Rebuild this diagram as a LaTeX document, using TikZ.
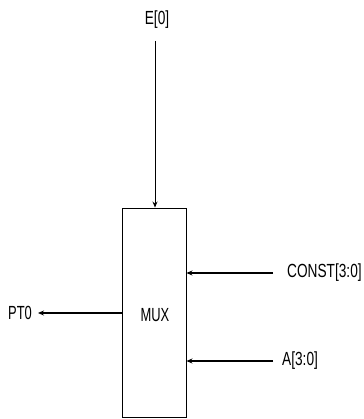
\documentclass[tikz,border=0pt]{standalone}
\usepackage{fontspec}
\setmainfont{Liberation Sans}
\usetikzlibrary{arrows.meta}
\begin{document}
\begin{tikzpicture}[x=1pt,y=-1pt,
  lbl/.style={inner sep=0pt,font=\fontsize{19}{19}\selectfont},
  sig/.style={line width=1.4pt,-{Stealth[length=6pt,width=5pt]}},
  blk/.style={draw,line width=0.9pt,minimum width=64pt,minimum height=209pt,inner sep=0pt}]
\useasboundingbox (0,0) rectangle (363,419);
\node[blk] (mux) at (154,312.5) {};
\node[lbl] (mt) at (155,315) {\scalebox{0.68}[1]{MUX}};
\node[lbl] (e) at (157,20) {\scalebox{0.72}[1]{E[0]}};
\node[lbl,anchor=west] (pt) at (8,313) {\scalebox{0.68}[1]{PT0}};
\node[lbl,anchor=west] (c) at (287,273) {\scalebox{0.72}[1]{CONST[3:0]}};
\node[lbl,anchor=west] (a) at (282,361) {\scalebox{0.72}[1]{A[3:0]}};
\coordinate (es) at (155,41);
\coordinate (cs) at (273,273);
\coordinate (as) at (273,361);
\coordinate (pe) at (38,313);
\draw[line width=0.9pt,-{Stealth[length=6pt,width=5pt]}] (es) -- (es |- mux.north);
\draw[sig] (pe -| mux.west) -- (pe);
\draw[sig] (cs) -- (cs -| mux.east);
\draw[sig] (as) -- (as -| mux.east);
\end{tikzpicture}
\end{document}
